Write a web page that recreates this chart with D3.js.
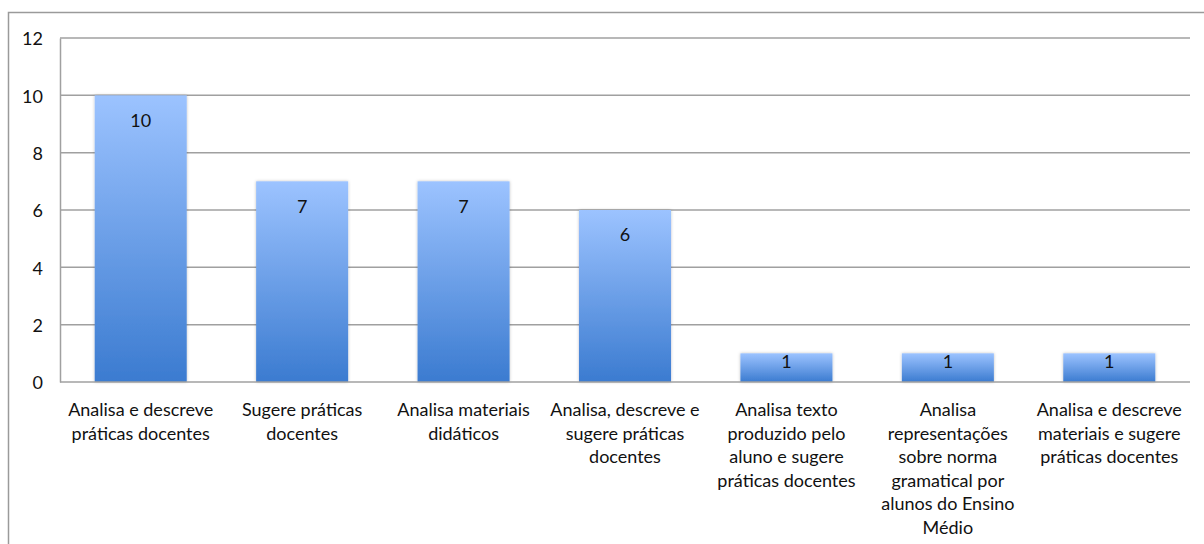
<!DOCTYPE html>
<html>
<head>
<meta charset="utf-8">
<script src="https://cdn.jsdelivr.net/npm/d3@7"></script>
<style>
  html, body { margin: 0; padding: 0; background: #fff; }
  svg { display: block; font-family: Lato, "Open Sans", "DejaVu Sans", sans-serif; }
</style>
</head>
<body>
<svg id="chart" width="1204" height="544"></svg>
<script>
// Category labels, pre-wrapped into lines
const categories = [
  ["Analisa e descreve", "práticas docentes"],
  ["Sugere práticas", "docentes"],
  ["Analisa materiais", "didáticos"],
  ["Analisa, descreve e", "sugere práticas", "docentes"],
  ["Analisa texto", "produzido pelo", "aluno e sugere", "práticas docentes"],
  ["Analisa", "representações", "sobre norma", "gramatical por", "alunos do Ensino", "Médio"],
  ["Analisa e descreve", "materiais e sugere", "práticas docentes"]
];
const values = [10, 7, 7, 6, 1, 1, 1];
const yTicks = [0, 2, 4, 6, 8, 10, 12];

const svg = d3.select("#chart");
const W = 1204, H = 544;
const margin = { left: 60, right: 14, top: 38, bottom: 162 };
const innerW = W - margin.left - margin.right;
const innerH = H - margin.top - margin.bottom;

// Outer frame (top and left edges visible, rest runs off the canvas)
svg.append("path")
  .attr("d", `M8.5,${H + 2}V12.5H${W + 2}`)
  .attr("fill", "none")
  .attr("stroke", "#9a9a9a")
  .attr("stroke-width", 1.5);

const defs = svg.append("defs");
const grad = defs.append("linearGradient")
  .attr("id", "barGrad").attr("x1", 0).attr("y1", 0).attr("x2", 0).attr("y2", 1);
grad.append("stop").attr("offset", "0%").attr("stop-color", "#9cc3ff");
grad.append("stop").attr("offset", "100%").attr("stop-color", "#3b7bd0");

const shadow = defs.append("filter").attr("id", "shadow")
  .attr("x", "-10%").attr("y", "-10%").attr("width", "120%").attr("height", "120%");
shadow.append("feDropShadow").attr("dx", 0).attr("dy", 0).attr("stdDeviation", 1.5)
  .attr("flood-color", "#000").attr("flood-opacity", 0.25);

const g = svg.append("g").attr("transform", `translate(${margin.left},${margin.top})`);

const x = d3.scaleBand().domain(d3.range(categories.length)).range([0, innerW]).paddingInner(0.43).paddingOuter(0.215);
const y = d3.scaleLinear().domain([0, 12]).range([innerH, 0]);

// Horizontal gridlines
g.append("g")
  .selectAll("line")
  .data(yTicks.filter(t => t > 0))
  .join("line")
  .attr("x1", 0).attr("x2", innerW)
  .attr("y1", d => y(d)).attr("y2", d => y(d))
  .attr("stroke", "#a0a0a0").attr("stroke-width", 1.5);

// Y axis
const yAxis = g.append("g").call(d3.axisLeft(y).tickValues(yTicks).tickSize(0).tickPadding(17));
yAxis.select(".domain").attr("stroke", "#a0a0a0").attr("stroke-width", 1.5);
yAxis.selectAll("text").attr("font-size", 18).attr("fill", "#111").attr("dy", "0.38em")
  .attr("font-family", "Lato, 'Open Sans', sans-serif");

// Bars
g.append("g")
  .selectAll("rect")
  .data(values)
  .join("rect")
  .attr("x", (d, i) => x(i))
  .attr("width", x.bandwidth())
  .attr("y", d => y(d))
  .attr("height", d => innerH - y(d))
  .attr("fill", "url(#barGrad)")
  .attr("filter", "url(#shadow)");

// Baseline
g.append("line")
  .attr("x1", 0).attr("x2", innerW)
  .attr("y1", innerH).attr("y2", innerH)
  .attr("stroke", "#a0a0a0").attr("stroke-width", 1.5);

// Value labels inside bar tops (kept inside short bars)
g.append("g")
  .selectAll("text")
  .data(values)
  .join("text")
  .attr("x", (d, i) => x(i) + x.bandwidth() / 2)
  .attr("y", d => Math.min(y(d) + 25, innerH - 20))
  .attr("dy", "0.35em")
  .attr("text-anchor", "middle")
  .attr("font-size", 18)
  .attr("fill", "#111")
  .text(d => d);

// Category labels
const lab = g.append("g")
  .selectAll("text")
  .data(categories)
  .join("text")
  .attr("x", (d, i) => x(i) + x.bandwidth() / 2)
  .attr("y", innerH + 34)
  .attr("text-anchor", "middle")
  .attr("font-size", 18)
  .attr("fill", "#111");
lab.selectAll("tspan")
  .data(d => d)
  .join("tspan")
  .attr("x", function () { return this.parentNode.getAttribute("x"); })
  .attr("dy", (d, i) => i === 0 ? 0 : 23.6)
  .text(d => d);
</script>
</body>
</html>
